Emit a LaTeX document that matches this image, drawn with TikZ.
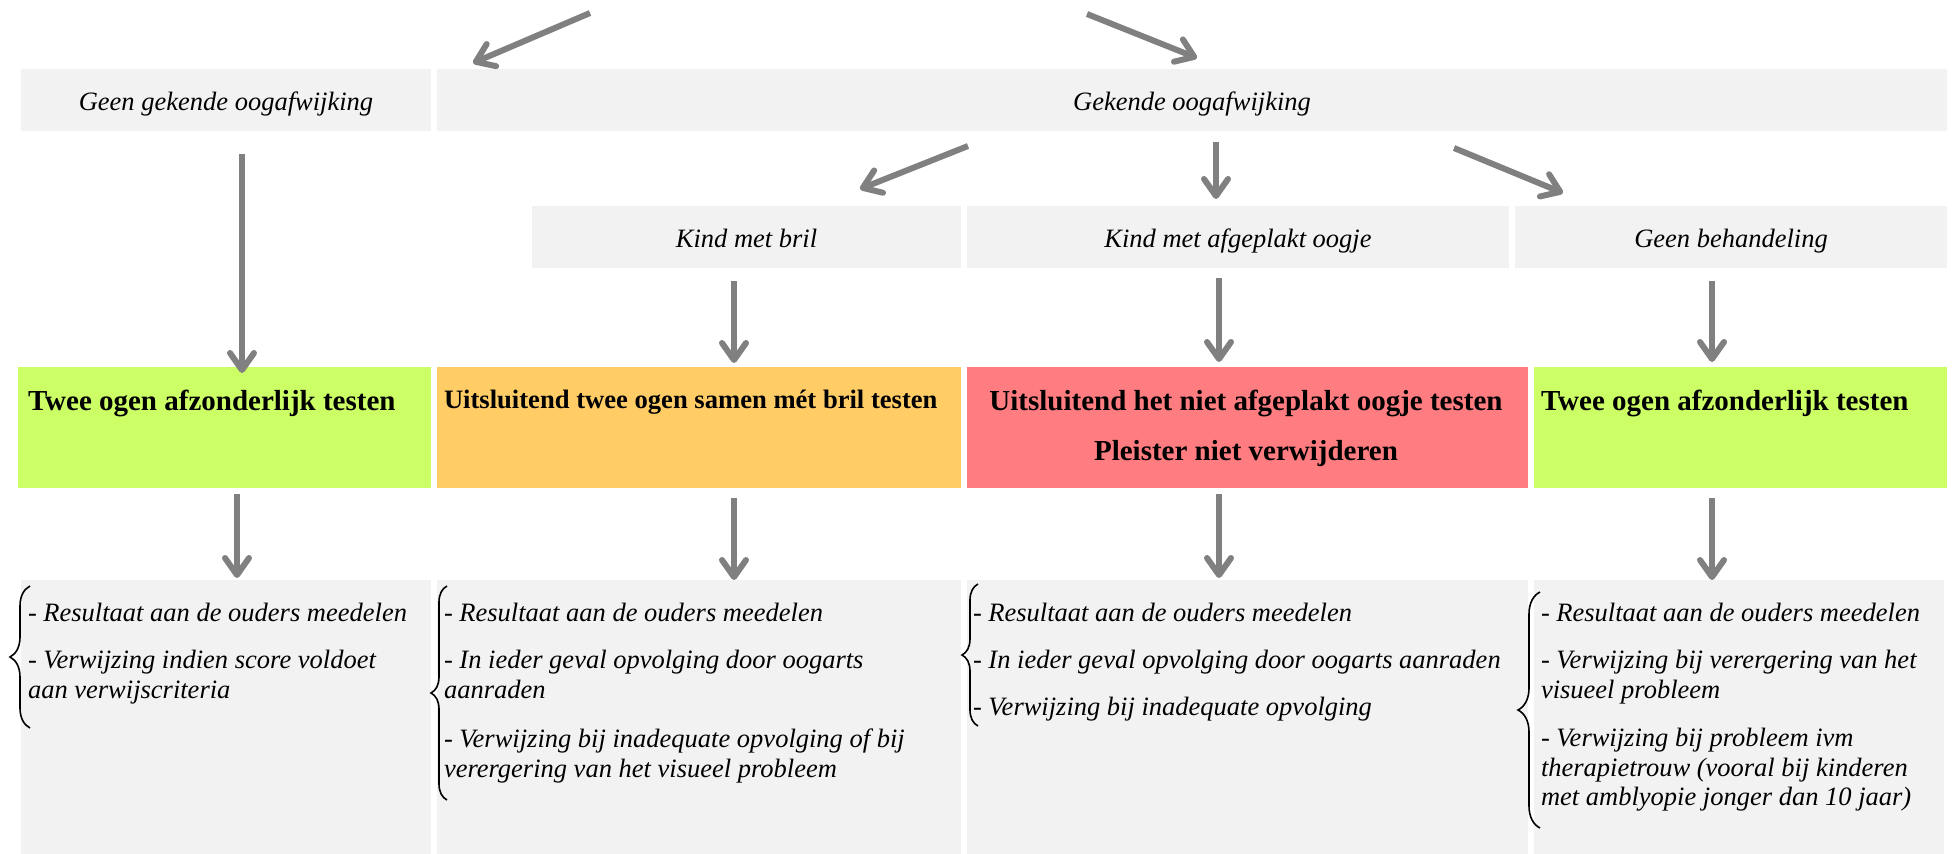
\documentclass[tikz,border=0pt]{standalone}
\usepackage{fontspec}
\setmainfont{Liberation Serif}
\usetikzlibrary{arrows.meta,decorations.pathreplacing,calc}
\definecolor{boxgray}{HTML}{F2F2F2}
\definecolor{okgreen}{HTML}{CCFF66}
\definecolor{warnorange}{HTML}{FFCC66}
\definecolor{alertred}{HTML}{FF7C80}
\definecolor{arrgray}{HTML}{808080}
\newcommand{\txtline}[4]{\node[listtxt] (#1) at (#2,#3) {#4};}
\begin{document}
\begin{tikzpicture}[x=1pt,y=-1pt,
  box/.style={rectangle, inner sep=0pt, outer sep=0pt, draw=none},
  lbl/.style={box, fill=boxgray, minimum height=62pt, font=\fontsize{26.5}{30}\selectfont\itshape, text height=22pt, text depth=2pt},
  colbox/.style={box, minimum height=121pt},
  resbox/.style={box, fill=boxgray, minimum height=274pt},
  head/.style={inner sep=0pt, outer sep=0pt, anchor=base west, font=\fontsize{29}{34}\selectfont\bfseries},
  listtxt/.style={inner sep=0pt, outer sep=0pt, anchor=base west, font=\fontsize{26.5}{30}\selectfont\itshape},
  arr/.style={draw=arrgray, line width=6pt, -{Straight Barb[length=17pt,width=24pt,round]}},
  brc/.style={draw=black, line width=1.6pt}
]
\useasboundingbox (0,0) rectangle (1957,854);

% row 1
\node[lbl, minimum width=410pt] (geen) at (226,100) {Geen gekende oogafwijking};
\node[lbl, minimum width=1510pt] (gek) at (1192,100) {Gekende oogafwijking};
% row 2
\node[lbl, minimum width=429pt] (bril) at (746.5,237) {Kind met bril};
\node[lbl, minimum width=542pt] (plak) at (1238,237) {Kind met afgeplakt oogje};
\node[lbl, minimum width=432pt] (geenb) at (1731,237) {Geen behandeling};
% row 3
\node[colbox, fill=okgreen, minimum width=413pt] (t1) at (224.5,427.5) {};
\node[colbox, fill=warnorange, minimum width=524pt] (t2) at (699,427.5) {};
\node[colbox, fill=alertred, minimum width=561pt] (t3) at (1247.5,427.5) {};
\node[colbox, fill=okgreen, minimum width=413pt] (t4) at (1740.5,427.5) {};
\node[head] (h1) at (28,410) {Twee ogen afzonderlijk testen};
\node[head, font=\fontsize{26.6}{30}\selectfont\bfseries] (h2) at (444,408) {Uitsluitend twee ogen samen mét bril testen};
\node[head, anchor=base] (h3a) at (1246,410) {Uitsluitend het niet afgeplakt oogje testen};
\node[head, anchor=base] (h3b) at (1246,460) {Pleister niet verwijderen};
\node[head] (h4) at (1541,410) {Twee ogen afzonderlijk testen};
% row 4
\node[resbox, minimum width=410pt] (r1) at (226,717) {};
\node[resbox, minimum width=524pt] (r2) at (699,717) {};
\node[resbox, minimum width=561pt] (r3) at (1247.5,717) {};
\node[resbox, minimum width=410pt] (r4) at (1739,717) {};

\txtline{p1a}{28}{621}{- Resultaat aan de ouders meedelen}
\txtline{p1b}{28}{668}{- Verwijzing indien score voldoet}
\txtline{p1c}{28}{698}{aan verwijscriteria}

\txtline{p2a}{444}{621}{- Resultaat aan de ouders meedelen}
\txtline{p2b}{444}{668}{- In ieder geval opvolging door oogarts}
\txtline{p2c}{444}{698}{aanraden}
\txtline{p2d}{444}{747}{- Verwijzing bij inadequate opvolging of bij}
\txtline{p2e}{444}{777}{verergering van het visueel probleem}

\txtline{p3a}{973}{621}{- Resultaat aan de ouders meedelen}
\txtline{p3b}{973}{668}{- In ieder geval opvolging door oogarts aanraden}
\txtline{p3c}{973}{715}{- Verwijzing bij inadequate opvolging}

\txtline{p4a}{1541}{621}{- Resultaat aan de ouders meedelen}
\txtline{p4b}{1541}{668}{- Verwijzing bij verergering van het}
\txtline{p4c}{1541}{698}{visueel probleem}
\txtline{p4d}{1541}{746}{- Verwijzing bij probleem ivm}
\txtline{p4e}{1541}{776}{therapietrouw (vooral bij kinderen}
\txtline{p4f}{1541}{805}{met amblyopie jonger dan 10 jaar)}

% braces
\draw[brc, decorate, decoration={brace, amplitude=20pt}] (30,728) -- (30,586);
\draw[brc, decorate, decoration={brace, amplitude=16pt}] (447,800) -- (447,586);
\draw[brc, decorate, decoration={brace, amplitude=16pt}] (978,726) -- (978,584);
\draw[brc, decorate, decoration={brace, amplitude=22pt}] (1540,828) -- (1540,592);

% arrows
\coordinate (src1) at (590,13);
\coordinate (src2) at (1087,14);
\draw[arr] (src1) -- ([shift={(247,-6)}]geen.north);
\draw[arr] (src2) -- ([shift={(5,-11)}]gek.north);
\draw[arr] ([shift={(16,23)}]geen.south) -- ([shift={(17.5,6)}]t1.north);
\draw[arr] ([shift={(-224,15)}]gek.south) -- ([shift={(113.5,-17)}]bril.north);
\draw[arr] ([shift={(24,11)}]gek.south) -- ([shift={(-22,-7)}]plak.north);
\draw[arr] ([shift={(262,17)}]gek.south) -- ([shift={(-168,-13)}]geenb.north);
\draw[arr] ([shift={(-12.5,13)}]bril.south) -- ([shift={(35,-4)}]t2.north);
\draw[arr] ([shift={(-19,10)}]plak.south) -- ([shift={(-28.5,-5)}]t3.north);
\draw[arr] ([shift={(-19,13)}]geenb.south) -- ([shift={(-28.5,-5)}]t4.north);
\draw[arr] ([shift={(12.5,6)}]t1.south) -- ([shift={(11,-2)}]r1.north);
\draw[arr] ([shift={(35,10)}]t2.south) -- ([shift={(35,0)}]r2.north);
\draw[arr] ([shift={(-28.5,6)}]t3.south) -- ([shift={(-28.5,-2)}]r3.north);
\draw[arr] ([shift={(-28.5,10)}]t4.south) -- ([shift={(-27,0)}]r4.north);
\end{tikzpicture}
\end{document}
